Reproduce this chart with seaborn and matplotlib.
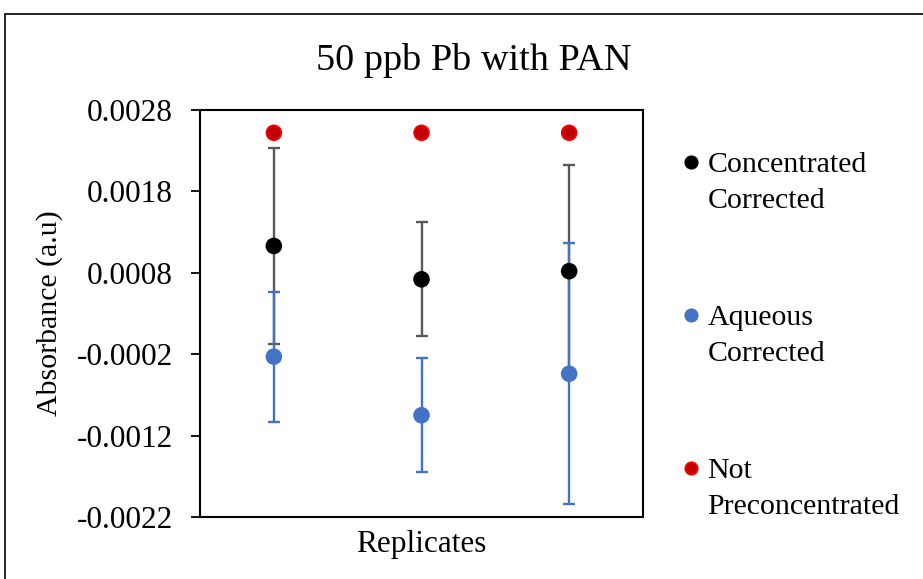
import matplotlib
matplotlib.use("Agg")
import matplotlib.pyplot as plt
import seaborn as sns
import numpy as np
import pandas as pd
from matplotlib.patches import Rectangle
from matplotlib.legend_handler import HandlerLine2D

# 데이터
replicates = [1, 2, 3]
series_names = ["Concentrated\nCorrected", "Aqueous\nCorrected", "Not\nPreconcentrated"]
concentrated = [0.00113, 0.00072, 0.00082]
concentrated_err = [0.0012, 0.0007, 0.0013]
aqueous = [-0.00023, -0.00095, -0.00044]
aqueous_err = [0.0008, 0.0007, 0.0016]
not_precon = [0.00252, 0.00252, 0.00252]
yticks = [0.0028, 0.0018, 0.0008, -0.0002, -0.0012, -0.0022]

sns.set_style("white")
plt.rcParams['font.family'] = ['Liberation Serif', 'DejaVu Serif']
plt.rcParams.update({"text.color": "black", "axes.labelcolor": "black",
                     "xtick.color": "black", "ytick.color": "black"})

df = pd.DataFrame({
    "rep": replicates * 3,
    "val": concentrated + aqueous + not_precon,
    "series": [series_names[0]] * 3 + [series_names[1]] * 3 + [series_names[2]] * 3,
})


# 범례 마커를 첫 줄 높이로 올림
class HandlerFirstLine(HandlerLine2D):
    def create_artists(self, legend, orig_handle, xdescent, ydescent, width, height, fontsize, trans):
        arts = super().create_artists(legend, orig_handle, xdescent, ydescent, width, height, fontsize, trans)
        for a in arts:
            a.set_ydata(np.asarray(a.get_ydata()) + 0.68 * fontsize)
        return arts


fig = plt.figure(figsize=(9.23, 5.79), dpi=100)
ax = fig.add_axes([200/923, 1 - 517/579, 443/923, 407/579])

# 에러바 먼저
ax.errorbar(replicates, concentrated, yerr=concentrated_err, fmt="none",
            ecolor="#595959", elinewidth=1.7, capsize=4.5, capthick=1.7, zorder=1)
ax.errorbar(replicates, aqueous, yerr=aqueous_err, fmt="none",
            ecolor="#4472C4", elinewidth=1.7, capsize=4.5, capthick=1.7, zorder=2)

palette = {series_names[0]: "black", series_names[1]: "#4472C4", series_names[2]: "#C00000"}
edges = ["black"] * 3 + ["#4472C4"] * 3 + ["red"] * 3
sns.scatterplot(data=df, x="rep", y="val", hue="series", palette=palette,
                s=115, edgecolor=edges, linewidth=1.2, ax=ax, zorder=3)

ax.set_xlim(0.5, 3.5)
ax.set_ylim(-0.0022, 0.0028)
ax.set_yticks(yticks)
ax.set_yticklabels([f"{v:.4f}" for v in yticks])
ax.set_xticks([])
ax.tick_params(axis="y", labelsize=22.5, length=6.5, width=1.3, direction="out", left=True, pad=13)
for s in ax.spines.values():
    s.set_linewidth(1.5)
    s.set_color("black")
ax.set_xlabel("Replicates", fontsize=22.5)
ax.xaxis.set_label_coords(0.5, -0.032)
ax.set_ylabel("Absorbance (a.u)", fontsize=21.5)
ax.yaxis.set_label_coords(-0.31, 0.5)
fig.text(474/923, 1 - 70/579, "50 ppb Pb with PAN", fontsize=27.5, ha="center", va="baseline")

handles, labels = ax.get_legend_handles_labels()
for h, ec in zip(handles, ["black", "#4472C4", "red"]):
    h.set_markersize(9)
    h.set_markeredgecolor(ec)
leg = ax.legend(handles, labels, loc="upper left", bbox_to_anchor=(682/923, 1 - 152/579),
                bbox_transform=fig.transFigure, frameon=False, fontsize=21.5,
                handlelength=0.6, handletextpad=0.25, labelspacing=3.05,
                borderaxespad=0, borderpad=0,
                handler_map={h: HandlerFirstLine() for h in handles})
for t in leg.get_texts():
    t.set_linespacing(1.5)

# 바깥 테두리
fig.patches.append(Rectangle((5/923, -0.05), 1.2, 1 - 14/579 + 0.05, transform=fig.transFigure,
                             fill=False, edgecolor="black", linewidth=1.2))

plt.savefig("out.png", dpi=100)
